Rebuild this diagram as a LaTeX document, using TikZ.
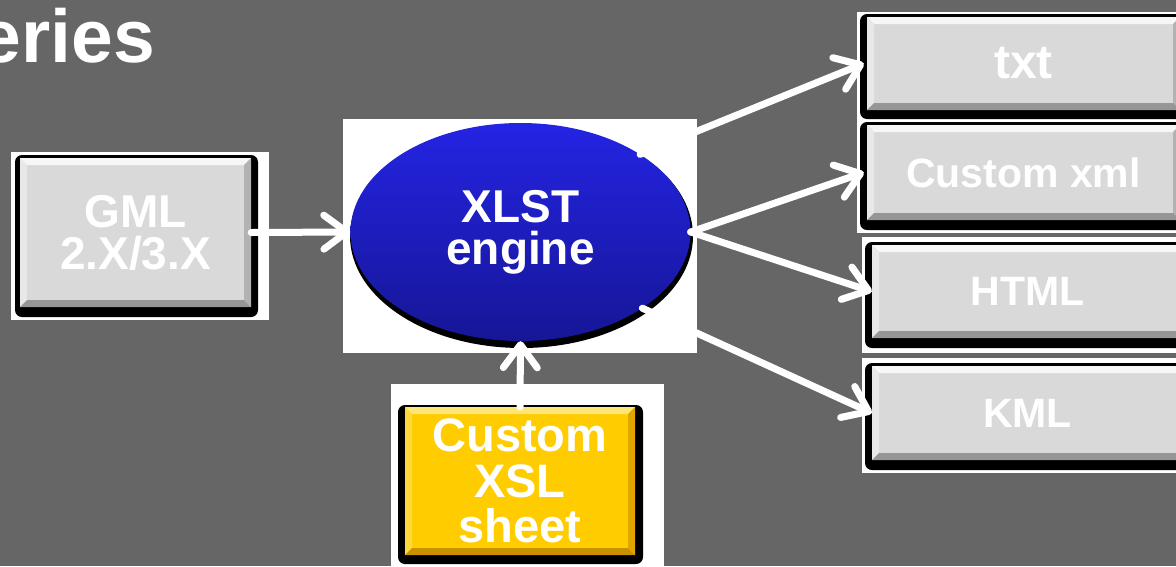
\documentclass[tikz,border=0pt]{standalone}
\usepackage{fontspec}
\setmainfont{Liberation Sans}
\usetikzlibrary{arrows.meta,shapes.geometric}

\definecolor{slidebg}{RGB}{102,102,102}
% grey button
\definecolor{gface}{RGB}{217,217,217}
\definecolor{gtop}{RGB}{246,246,246}
\definecolor{gleft}{RGB}{232,232,232}
\definecolor{gright}{RGB}{178,178,178}
\definecolor{gbottom}{RGB}{150,150,150}
% yellow button
\definecolor{yface}{RGB}{255,204,0}
\definecolor{ytop}{RGB}{255,230,120}
\definecolor{yleft}{RGB}{255,216,60}
\definecolor{yright}{RGB}{225,165,0}
\definecolor{ybottom}{RGB}{200,145,0}
% blue ellipse
\definecolor{btop}{RGB}{36,36,228}
\definecolor{bmid}{RGB}{30,30,205}
\definecolor{bbot}{RGB}{22,22,150}

\newcommand\bevelwd{7pt}

\tikzset{
  bevelbox/.style n args={5}{
    rectangle, inner sep=0pt, fill=#1, text=white, align=center,
    path picture={
      \path (path picture bounding box.north west) coordinate (bvnw)
            (path picture bounding box.north east) coordinate (bvne)
            (path picture bounding box.south west) coordinate (bvsw)
            (path picture bounding box.south east) coordinate (bvse);
      \fill[#2] (bvnw) -- (bvne) -- ([shift={(-\bevelwd,-\bevelwd)}]bvne)
                -- ([shift={(\bevelwd,-\bevelwd)}]bvnw) -- cycle;
      \fill[#3] (bvnw) -- (bvsw) -- ([shift={(\bevelwd,\bevelwd)}]bvsw)
                -- ([shift={(\bevelwd,-\bevelwd)}]bvnw) -- cycle;
      \fill[#4] (bvne) -- (bvse) -- ([shift={(-\bevelwd,\bevelwd)}]bvse)
                -- ([shift={(-\bevelwd,-\bevelwd)}]bvne) -- cycle;
      \fill[#5] (bvsw) -- (bvse) -- ([shift={(-\bevelwd,\bevelwd)}]bvse)
                -- ([shift={(\bevelwd,\bevelwd)}]bvsw) -- cycle;
    }},
  graybtn/.style={bevelbox={gface}{gtop}{gleft}{gright}{gbottom}},
  yellowbtn/.style={bevelbox={yface}{ytop}{yleft}{yright}{ybottom}},
  shadowbox/.style={fill=black, rounded corners=7pt},
  framebox/.style={fill=white},
  flow/.style={draw=white, line width=7pt, line cap=round,
    -{Straight Barb[length=23pt,width=34pt,round]}},
  bigtext/.style={font=\bfseries\fontsize{46}{42}\selectfont},
  outtext/.style={font=\bfseries\fontsize{41}{44}\selectfont},
}

\begin{document}
\begin{tikzpicture}[x=1pt,y=-1pt]
\fill[slidebg] (0,0) rectangle (1176,566);
\clip (0,0) rectangle (1176,566);

% slide title (runs off the left edge)
\node[anchor=base east, inner sep=0pt, text=white,
      font=\bfseries\fontsize{75}{80}\selectfont] (title) at (155,62) {eries};

% input: GML
\fill[framebox] (11,152) rectangle (269,320);
\fill[shadowbox] (15,155) rectangle (258,317);
\node[graybtn, bigtext, minimum width=231pt, minimum height=149pt]
  (gml) at (135.5,232.5) {GML\\2.X/3.X};

% transformation engine
\fill[framebox] (343,119) rectangle (697,353);
\fill[black] (521.5,236) ellipse [x radius=171.5pt, y radius=112pt];
\node[ellipse, inner sep=0pt, minimum width=340pt, minimum height=218pt,
      top color=btop, middle color=bmid, bottom color=bbot,
      text=white, align=center, bigtext]
  (xlst) at (520.5,232) {XLST\\engine};

% stylesheet
\fill[framebox] (391,384) rectangle (664,580);
\fill[shadowbox] (398,405) rectangle (643,564);
\node[yellowbtn, font=\bfseries\fontsize{47}{45.5}\selectfont,
      minimum width=230pt, minimum height=148pt]
  (xsl) at (520,481) {Custom\\XSL\\sheet};

% outputs
\fill[framebox] (857,12) rectangle (1190,233);
\fill[framebox] (862,237) rectangle (1190,353);
\fill[framebox] (862,358) rectangle (1190,473);

\fill[shadowbox] (860,14) rectangle (1188,119);
\node[graybtn, font=\bfseries\fontsize{48}{50}\selectfont,
      minimum width=313pt, minimum height=93pt]
  (txt) at (1023.5,63.5) {txt};

\fill[shadowbox] (860,122) rectangle (1188,230);
\node[graybtn, outtext, minimum width=313pt, minimum height=95pt]
  (cxml) at (1023.5,172.5) {Custom xml};

\fill[shadowbox] (865,242) rectangle (1190,348);
\node[graybtn, outtext, minimum width=311pt, minimum height=93pt]
  (html) at (1027.5,291.5) {HTML};

\fill[shadowbox] (865,363) rectangle (1190,470);
\node[graybtn, outtext, minimum width=311pt, minimum height=94pt]
  (kml) at (1027.5,413) {KML};

% connectors
\draw[flow] (gml.east) -- (xlst.west);
\draw[flow] (xsl.north) -- (xlst.south);
\draw[flow] (xlst.33) -- ([xshift=-3pt]txt.west);
\draw[flow] (xlst.east) -- ([xshift=-3pt]cxml.west);
\draw[flow] (xlst.east) -- (html.west);
\draw[flow] (xlst.-32) -- (kml.west);
\end{tikzpicture}
\end{document}
